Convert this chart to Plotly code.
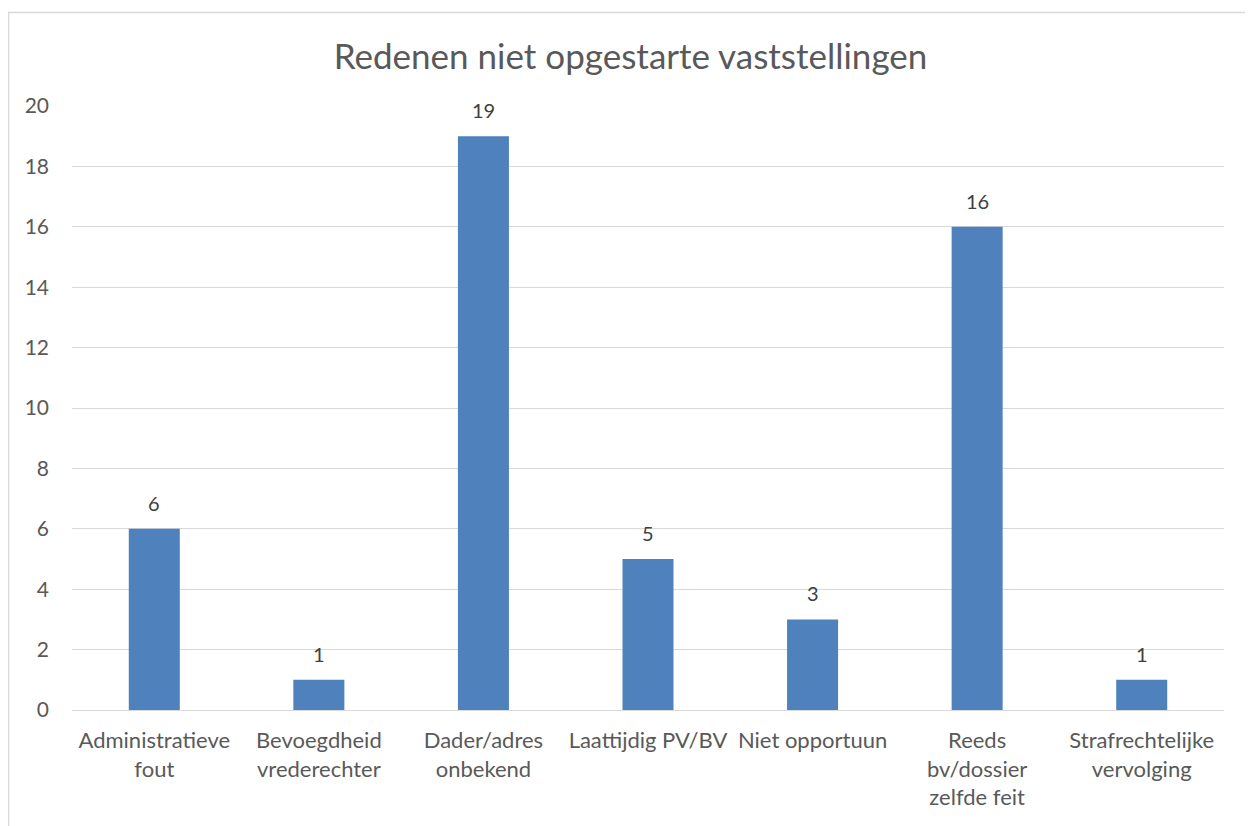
import plotly.graph_objects as go

categories = ["Administratieve<br>fout", "Bevoegdheid<br>vrederechter", "Dader/adres<br>onbekend",
              "Laattijdig PV/BV", "Niet opportuun", "Reeds<br>bv/dossier<br>zelfde feit",
              "Strafrechtelijke<br>vervolging"]
values = [6, 1, 19, 5, 3, 16, 1]
y_ticks = [0, 2, 4, 6, 8, 10, 12, 14, 16, 18, 20]

FONT = "Lato"
TXT = "#595959"

# page body has an 8px margin; work in figure coordinates (reference - 8)
OFF = 8
W, H = 1253 - OFF, 826 - OFF
L, T = 72 - OFF, 106 - OFF
R = W - (1224 - OFF)
B = H - (710 - OFF)
pw, ph = W - L - R, H - T - B
def px(x): return (x - OFF - L) / pw
def py(y): return (H - B - (y - OFF)) / ph

fig = go.Figure()
fig.add_trace(go.Bar(x=categories, y=values, marker=dict(color="#4F81BD", line=dict(width=0)),
                     hoverinfo="x+y"))

for c, v in zip(categories, values):
    fig.add_annotation(x=c, y=v, text=str(v), showarrow=False, yanchor="bottom", yshift=12,
                       font=dict(family=FONT, size=20, color="#404040"))

fig.add_shape(type="rect", xref="paper", yref="paper", x0=px(8.5), x1=px(1252), y0=py(12.5), y1=py(840),
              line=dict(color="#d9d9d9", width=1.5), fillcolor="rgba(0,0,0,0)", layer="below")

fig.update_layout(
    width=W, height=H,
    margin=dict(l=L, r=R, t=T, b=B),
    paper_bgcolor="white", plot_bgcolor="white",
    title=dict(text="Redenen niet opgestarte vaststellingen", x=0.5, xanchor="center",
               y=1 - (57 - OFF) / H, yanchor="middle", font=dict(family=FONT, size=35, color=TXT)),
    bargap=0.69,
    showlegend=False,
    font=dict(family=FONT, color=TXT),
)
fig.update_xaxes(showgrid=False, showline=False, ticks="", tickfont=dict(family=FONT, size=22, color=TXT),
                 tickangle=0, zeroline=False, ticklabelstandoff=15)
fig.update_yaxes(range=[0, 20], tickvals=y_ticks, showgrid=True, gridcolor="#d9d9d9", gridwidth=1,
                 zeroline=True, zerolinecolor="#d9d9d9", zerolinewidth=1, showline=False, ticks="",
                 tickfont=dict(family=FONT, size=21, color=TXT), ticklabelstandoff=22)

fig.write_html("out.html")
